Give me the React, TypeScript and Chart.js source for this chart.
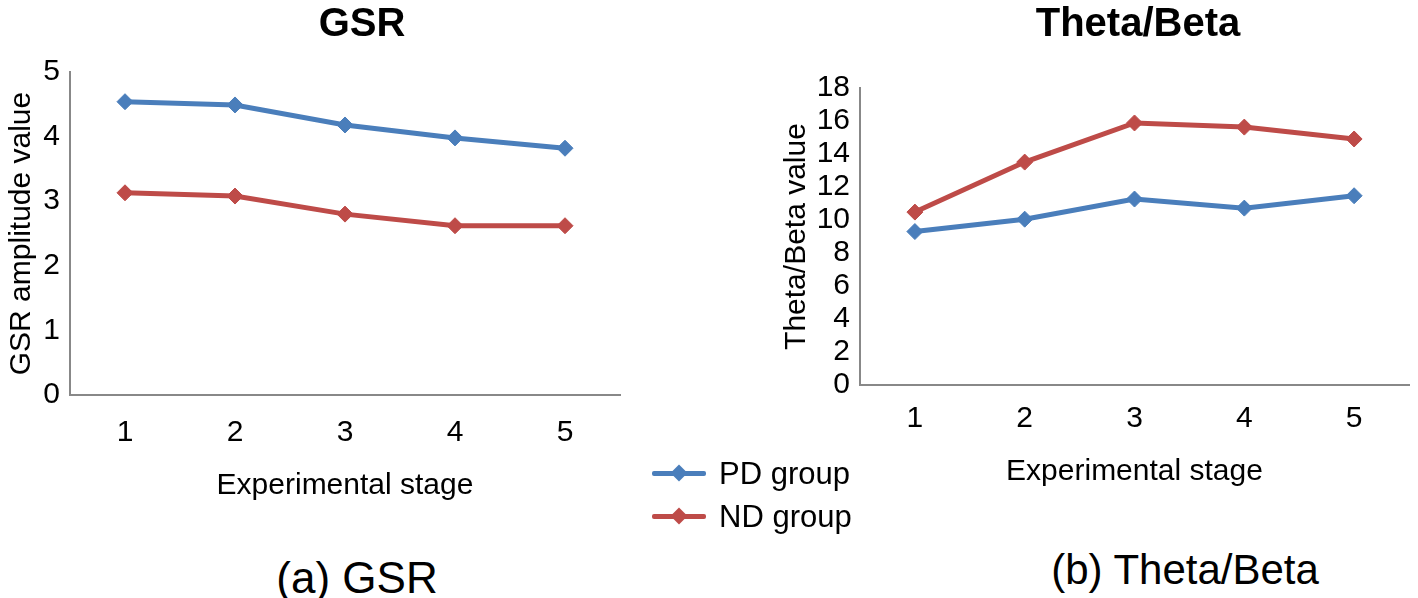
import React, { useEffect, useRef } from "react";
import { Chart, registerables } from "chart.js";

Chart.register(...registerables);

const categories = ["1", "2", "3", "4", "5"];
const gsrPD = [4.54, 4.49, 4.18, 3.98, 3.82];
const gsrND = [3.13, 3.08, 2.8, 2.62, 2.62];
const tbPD = [9.3, 10.05, 11.27, 10.72, 11.47];
const tbND = [10.48, 13.51, 15.88, 15.63, 14.91];
const seriesNames = ["PD group", "ND group"];

const BLUE = "#4A7EBB";
const RED = "#BE4B48";
const AXIS = "#888888";
const FONT = "'Liberation Sans', Arial, sans-serif";
const FS = 30;

type Cfg = {
  width: number;
  height: number;
  pd: number[];
  nd: number[];
  yMax: number;
  yStep: number;
  yTitle: string;
  padTop: number;
  padRight: number;
  yWidth: number;
  yTickPad: number;
  yTitlePad: number;
  xHeight: number;
  xTickPad: number;
  xTitlePad: number;
};

function LineChart(p: Cfg) {
  const ref = useRef<HTMLCanvasElement | null>(null);
  useEffect(() => {
    if (!ref.current) return;
    const ds = (label: string, data: number[], color: string) => ({
      label,
      data,
      borderColor: color,
      backgroundColor: color,
      borderWidth: 5,
      pointStyle: "rectRot" as const,
      pointRadius: 8,
      pointBorderWidth: 1,
      pointBackgroundColor: color,
      pointBorderColor: color,
      tension: 0,
    });
    const chart = new Chart(ref.current, {
      type: "line",
      data: {
        labels: categories,
        datasets: [ds(seriesNames[0], p.pd, BLUE), ds(seriesNames[1], p.nd, RED)],
      },
      options: {
        animation: false,
        responsive: false,
        devicePixelRatio: 1,
        layout: { padding: { top: p.padTop, right: p.padRight, left: 0, bottom: 0 } },
        plugins: {
          legend: { display: false },
          tooltip: { enabled: false },
          title: { display: false },
        },
        scales: {
          x: {
            type: "category",
            offset: true,
            grid: { display: false, drawTicks: false },
            border: { display: true, color: AXIS, width: 2 },
            ticks: {
              color: "#000",
              font: { family: FONT, size: FS },
              padding: p.xTickPad,
              maxRotation: 0,
              autoSkip: false,
            },
            title: {
              display: true,
              text: "Experimental stage",
              color: "#000",
              font: { family: FONT, size: FS },
              padding: { top: 0, bottom: p.xTitlePad },
            },
            afterFit: (s: any) => {
              s.height = p.xHeight;
            },
          },
          y: {
            min: 0,
            max: p.yMax,
            grid: { display: false, drawTicks: false },
            border: { display: true, color: AXIS, width: 2 },
            ticks: {
              stepSize: p.yStep,
              color: "#000",
              font: { family: FONT, size: FS, lineHeight: 1 },
              padding: p.yTickPad,
              autoSkip: false,
            },
            title: {
              display: true,
              text: p.yTitle,
              color: "#000",
              font: { family: FONT, size: FS },
              padding: { top: p.yTitlePad, bottom: 0 },
            },
            afterFit: (s: any) => {
              s.width = p.yWidth;
            },
          },
        },
      },
    });
    return () => chart.destroy();
  }, []);
  return (
    <canvas
      ref={ref}
      width={p.width}
      height={p.height}
      style={{ width: p.width, height: p.height, display: "block" }}
    />
  );
}

const textStyle = (x: number, y: number, size: number, bold = false): React.CSSProperties => ({
  position: "absolute",
  left: x,
  top: y,
  transform: "translate(-50%, -50%)",
  fontFamily: FONT,
  fontSize: size,
  fontWeight: bold ? "bold" : "normal",
  whiteSpace: "nowrap",
  color: "#000",
  lineHeight: 1,
});

function LegendItem({ y, color, label }: { y: number; color: string; label: string }) {
  return (
    <>
      <div
        style={{
          position: "absolute",
          left: 652,
          top: y - 2.5,
          width: 54,
          height: 5,
          background: color,
          borderRadius: 2,
        }}
      />
      <div
        style={{
          position: "absolute",
          left: 679 - 6,
          top: y - 6,
          width: 12,
          height: 12,
          background: color,
          transform: "rotate(45deg)",
        }}
      />
      <div
        style={{
          position: "absolute",
          left: 719,
          top: y,
          transform: "translateY(-50%)",
          fontFamily: FONT,
          fontSize: 31,
          lineHeight: 1,
          whiteSpace: "nowrap",
          color: "#000",
        }}
      >
        {label}
      </div>
    </>
  );
}

export default function App() {
  return (
    <div
      style={{
        position: "fixed",
        left: 0,
        top: 0,
        width: 1418,
        height: 598,
        background: "#fff",
        overflow: "hidden",
      }}
    >
      <div style={{ position: "absolute", left: 0, top: 0 }}>
        <LineChart
          width={640}
          height={520}
          pd={gsrPD}
          nd={gsrND}
          yMax={5}
          yStep={1}
          yTitle="GSR amplitude value"
          padTop={72}
          padRight={20}
          yWidth={70}
          yTickPad={10}
          yTitlePad={4}
          xHeight={125}
          xTickPad={20}
          xTitlePad={16}
        />
      </div>
      <div style={{ position: "absolute", left: 760, top: 0 }}>
        <LineChart
          width={658}
          height={520}
          pd={tbPD}
          nd={tbND}
          yMax={18}
          yStep={2}
          yTitle="Theta/Beta value"
          padTop={88}
          padRight={3}
          yWidth={100}
          yTickPad={10}
          yTitlePad={19}
          xHeight={135}
          xTickPad={16}
          xTitlePad={30}
        />
      </div>
      <div style={textStyle(362, 22, 40, true)}>GSR</div>
      <div style={textStyle(1138, 22, 40, true)}>Theta/Beta</div>
      <LegendItem y={473} color={BLUE} label={seriesNames[0]} />
      <LegendItem y={516} color={RED} label={seriesNames[1]} />
      <div style={textStyle(357, 578, 44)}>(a) GSR</div>
      <div style={textStyle(1185, 570, 42)}>(b) Theta/Beta</div>
    </div>
  );
}
